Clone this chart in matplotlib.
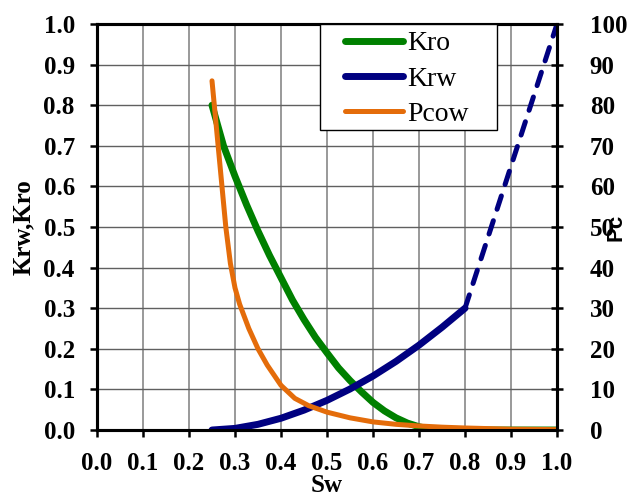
import numpy as np
import matplotlib
matplotlib.use('Agg')
import matplotlib.pyplot as plt
from matplotlib.patches import Rectangle

plt.rcParams['font.family'] = 'Liberation Serif'

# relative permeability data
sw_kro = [0.25, 0.275, 0.30, 0.325, 0.35, 0.375, 0.40, 0.425, 0.45, 0.475, 0.50,
          0.525, 0.55, 0.575, 0.60, 0.625, 0.65, 0.675, 0.70, 0.725, 0.75, 0.80, 0.90, 1.0]
kro = [0.80, 0.70, 0.625, 0.555, 0.49, 0.43, 0.375, 0.32, 0.272, 0.228, 0.19,
       0.153, 0.122, 0.094, 0.068, 0.047, 0.030, 0.017, 0.008, 0.002, 0.0, 0.0, 0.0, 0.0]

sw_krw = [0.25, 0.30, 0.35, 0.40, 0.45, 0.50, 0.55, 0.60, 0.65, 0.70, 0.75, 0.80]
krw = [0.0, 0.004, 0.014, 0.029, 0.049, 0.073, 0.101, 0.133, 0.169, 0.209, 0.253, 0.30]

# extrapolated part of krw (dashed)
sw_krw_ext = [0.80, 1.0]
krw_ext = [0.30, 1.0]

# capillary pressure
sw_pc = [0.25, 0.255, 0.26, 0.265, 0.27, 0.28, 0.29, 0.30, 0.31, 0.32, 0.33, 0.35, 0.37,
         0.40, 0.43, 0.46, 0.50, 0.55, 0.60, 0.65, 0.70, 0.75, 0.80, 0.90, 1.0]
pcow = [86, 80, 74, 68, 62, 50, 41, 35, 31, 28, 25, 20, 16,
        11, 7.8, 6.0, 4.4, 3.0, 2.0, 1.4, 1.0, 0.7, 0.5, 0.2, 0.1]

green = '#008000'
navy = '#000080'
orange = '#E46C0A'

fig = plt.figure(figsize=(6.27, 5.04), dpi=100)
ax = fig.add_axes([0.1547, 0.1468, 0.7337, 0.8056])
ax2 = ax.twinx()

l1, = ax.plot(sw_kro, kro, color=green, lw=5, label='Kro', solid_capstyle='round', zorder=3)
l2, = ax.plot(sw_krw, krw, color=navy, lw=5, label='Krw', solid_capstyle='round', zorder=3)
ax.plot(sw_krw_ext, krw_ext, color=navy, lw=3.6, dashes=(2.8, 2.4),
        dash_capstyle='round', zorder=3)
l3, = ax2.plot(sw_pc, pcow, color=orange, lw=3.6, label='Pcow', solid_capstyle='round')

ax.set_xlim(0, 1)
ax.set_ylim(0, 1)
ax2.set_ylim(0, 100)
ax.set_xticks(np.arange(0, 1.01, 0.1))
ax.set_yticks(np.arange(0, 1.01, 0.1))
ax2.set_yticks(np.arange(0, 101, 10))

ax.xaxis.grid(True, color='#999999', lw=1.4)
ax.yaxis.grid(True, color='#606060', lw=1.0)
ax.set_axisbelow(True)

for a in (ax, ax2):
    for s in a.spines.values():
        s.set_linewidth(2.2)
        s.set_color('black')

ax.tick_params(axis='both', direction='out', length=5, width=1.8, pad=11, labelsize=18)
ax.tick_params(axis='y', right=False)
ax.tick_params(axis='x', top=False)
ax2.tick_params(axis='y', direction='inout', length=9, width=1.8, pad=19, labelsize=18)

ax.set_xticklabels(['%.1f' % v for v in np.arange(0, 1.01, 0.1)], fontweight='bold')
ax.set_yticklabels(['%.1f' % v for v in np.arange(0, 1.01, 0.1)], fontweight='bold')
ax2.set_yticklabels([str(v) for v in range(0, 101, 10)], fontweight='bold')

ax.set_xlabel('Sw', fontsize=18, fontweight='bold', labelpad=-1)
ax.set_ylabel('Krw,Kro', fontsize=18, fontweight='bold', labelpad=6)
ax2.set_ylabel('Pc', fontsize=16, fontweight='bold', family='Liberation Sans')
ax2.yaxis.set_label_coords(1.105, 0.5)

# legend box drawn separately so the padding matches
box = Rectangle((0.4848, 0.7389), 0.3848, 0.2611, transform=ax2.transAxes,
                facecolor='white', edgecolor='black', lw=1.0, zorder=5)
ax2.add_patch(box)
leg = ax2.legend([l1, l2, l3], ['Kro', 'Krw', 'Pcow'], loc='upper left',
                 bbox_to_anchor=(0.539, 0.983), borderaxespad=0, borderpad=0,
                 fontsize=20, handlelength=2.1, handletextpad=0.15,
                 labelspacing=0.35, frameon=False)
leg.set_zorder(6)

fig.savefig('out.png', dpi=100)
